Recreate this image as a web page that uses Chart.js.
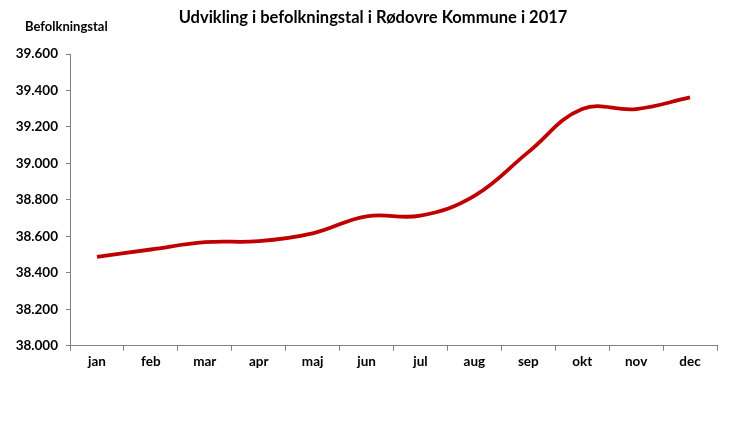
<!DOCTYPE html>
<html>
<head>
<meta charset="utf-8">
<script src="https://cdn.jsdelivr.net/npm/chart.js@4/dist/chart.umd.min.js"></script>
<style>
  html, body { margin: 0; padding: 0; background: #fff; }
  #wrap { width: 746px; height: 441px; }
</style>
</head>
<body>
<div id="wrap"><canvas id="popChart"></canvas></div>
<script>
const months = ["jan", "feb", "mar", "apr", "maj", "jun", "jul", "aug", "sep", "okt", "nov", "dec"];
const population = [38487, 38528, 38568, 38574, 38617, 38710, 38714, 38822, 39062, 39298, 39298, 39362];
const yTicks = [38000, 38200, 38400, 38600, 38800, 39000, 39200, 39400, 39600];

// dansk tusindtalsseparator
function fmt(v) {
  return String(v).replace(/\B(?=(\d{3})+(?!\d))/g, ".");
}

// titel midt på hele billedet + akse-titel oppe i venstre hjørne
const headerPlugin = {
  id: "header",
  afterDraw(chart) {
    const c = chart.ctx;
    c.save();
    c.fillStyle = "#000";
    c.textBaseline = "middle";

    c.font = "bold 16.5px Lato";
    c.textAlign = "center";
    c.fillText("Udvikling i befolkningstal i Rødovre Kommune i 2017", chart.width / 2, 18);

    c.font = "bold 13px Lato";
    c.textAlign = "left";
    c.fillText("Befolkningstal", 25, 27);
    c.restore();
  },
};

const ctx = document.getElementById("popChart");

new Chart(ctx, {
  type: "line",
  data: {
    labels: months,
    datasets: [
      {
        label: "Befolkningstal",
        data: population,
        borderColor: "#c00000",
        borderWidth: 3.8,
        tension: 0.4,
        pointRadius: 0,
        fill: false,
      },
    ],
  },
  options: {
    responsive: true,
    maintainAspectRatio: false,
    animation: false,
    layout: {
      padding: { left: 0, right: 29, top: 54, bottom: 68 },
    },
    plugins: {
      legend: { display: false },
      tooltip: { enabled: false },
      title: { display: false },
    },
    scales: {
      x: {
        offset: true,
        grid: {
          drawOnChartArea: false,
          offset: true,
          tickLength: 5,
          color: "#808080",
        },
        border: { color: "#808080", width: 1 },
        ticks: {
          color: "#000",
          padding: 3,
          maxRotation: 0,
          font: { family: "Lato", size: 13.5, weight: "bold" },
        },
      },
      y: {
        min: 38000,
        max: 39600,
        afterFit(scale) {
          scale.width = 70;
        },
        afterBuildTicks(scale) {
          scale.ticks = yTicks.map((v) => ({ value: v }));
        },
        grid: {
          drawOnChartArea: false,
          tickLength: 4,
          color: "#808080",
        },
        border: { color: "#808080", width: 1 },
        ticks: {
          color: "#000",
          padding: 8,
          font: { family: "Lato", size: 13.5, weight: "bold" },
          callback: (v) => fmt(v),
        },
      },
    },
  },
  plugins: [headerPlugin],
});
</script>
</body>
</html>
